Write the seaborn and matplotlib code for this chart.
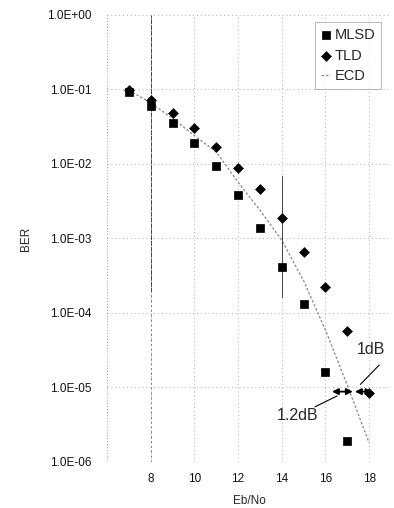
import numpy as np
import pandas as pd
import matplotlib
matplotlib.use("Agg")
import matplotlib.pyplot as plt
import seaborn as sns

# --------------------------
# Data
# --------------------------
mlsd_x = [7, 8, 9, 10, 11, 12, 13, 14, 15, 16, 17]
mlsd_ber = [9.3e-2, 6.0e-2, 3.5e-2, 1.9e-2, 9.4e-3, 3.8e-3, 1.4e-3, 4.2e-4, 1.3e-4, 1.6e-5, 1.9e-6]

tld_x = [7, 8, 9, 10, 11, 12, 13, 14, 15, 16, 17, 18]
tld_ber = [9.8e-2, 7.2e-2, 4.8e-2, 3.0e-2, 1.7e-2, 8.9e-3, 4.6e-3, 1.9e-3, 6.6e-4, 2.2e-4, 5.7e-5, 8.5e-6]

ecd_x = [7, 8, 9, 10, 11, 12, 13, 14, 15, 16, 17, 18]
ecd_ber = [9.8e-2, 6.6e-2, 4.1e-2, 2.4e-2, 1.45e-2, 5.7e-3, 2.4e-3, 9.5e-4, 2.7e-4, 5.9e-5, 1.07e-5, 1.8e-6]

y_ticks = [1e-6, 1e-5, 1e-4, 1e-3, 1e-2, 1e-1, 1e0]
y_labels = ["1.0E-06", "1.0E-05", "1.0E-04", "1.0E-03", "1.0E-02", "1.0E-01", "1.0E+00"]
x_ticks = [8, 10, 12, 14, 16, 18]

# --------------------------
# Plot
# --------------------------
sns.set_style("white")
plt.rcParams['font.family'] = ['Liberation Sans', 'DejaVu Sans']

fig = plt.figure(figsize=(3.94, 5.08), dpi=100)
ax = fig.add_axes([0.2716, 0.0906, 0.7208, 0.8799])

df_m = pd.DataFrame({"Eb/No": mlsd_x, "BER": mlsd_ber})
df_t = pd.DataFrame({"Eb/No": tld_x, "BER": tld_ber})
df_e = pd.DataFrame({"Eb/No": ecd_x, "BER": ecd_ber})

sns.lineplot(data=df_e, x="Eb/No", y="BER", ax=ax, color="#888888",
             linestyle=(0, (2, 1.5)), linewidth=0.9, label="ECD", zorder=2)
sns.scatterplot(data=df_m, x="Eb/No", y="BER", ax=ax, marker="s", s=40,
                color="black", edgecolor="black", label="MLSD", zorder=3)
sns.scatterplot(data=df_t, x="Eb/No", y="BER", ax=ax, marker="D", s=26,
                color="black", edgecolor="black", label="TLD", zorder=3)

ax.set_yscale("log")
ax.set_ylim(1e-6, 1)
ax.set_xlim(6, 19)
ax.set_yticks(y_ticks)
ax.set_yticklabels(y_labels)
ax.set_xticks(x_ticks)
ax.minorticks_off()
ax.tick_params(axis="both", length=0, labelsize=8.5, colors="#111111")
ax.tick_params(axis="y", pad=11)
ax.tick_params(axis="x", pad=8)

ax.set_xlabel("Eb/No", fontsize=8.5, labelpad=7)
ax.set_ylabel("BER", fontsize=8.5, labelpad=11)

for s in ax.spines.values():
    s.set_visible(False)

ax.grid(True, which="major", color="#aaaaaa", linestyle=(0, (1, 3)), linewidth=0.7)
ax.axvline(6, color="#999999", linestyle=(0, (1, 2)), linewidth=0.7)
ax.axvline(8, color="#444444", linestyle=(0, (5, 1)), linewidth=0.7, ymin=0.38)
ax.axvline(8, color="#777777", linestyle=(0, (2, 3)), linewidth=0.7, ymax=0.38)
ax.axvline(14, color="#444444", linestyle="-", linewidth=0.7, ymin=0.37, ymax=0.64)

# arrows and labels
arrow_kw = dict(arrowstyle="<|-|>", color="black", lw=1.3,
                mutation_scale=9, shrinkA=0, shrinkB=0)
ax.annotate("", xy=(16.3, 8.8e-6), xytext=(17.25, 8.8e-6), arrowprops=arrow_kw)
ax.annotate("", xy=(17.35, 8.8e-6), xytext=(18.15, 8.8e-6), arrowprops=arrow_kw)
ax.plot([17.6, 18.46], [1.1e-5, 2.0e-5], color="black", lw=0.8)
ax.plot([16.53, 15.52], [7.7e-6, 5.5e-6], color="black", lw=0.8)
ax.text(18.1, 3.2e-5, "1dB", fontsize=11.5, ha="center", va="center")
ax.text(14.7, 4.2e-6, "1.2dB", fontsize=11.5, ha="center", va="center")

h, l = ax.get_legend_handles_labels()
order = [l.index("MLSD"), l.index("TLD"), l.index("ECD")]
leg = ax.legend([h[i] for i in order], [l[i] for i in order],
                loc="upper right", bbox_to_anchor=(0.99, 1.0), fontsize=10.5,
                frameon=True, fancybox=False, handlelength=0.6,
                handletextpad=0.3, borderpad=0.4, labelspacing=0.45)
leg.get_frame().set_edgecolor("#999999")
leg.get_frame().set_linewidth(0.6)

fig.savefig("out.png", dpi=100)
